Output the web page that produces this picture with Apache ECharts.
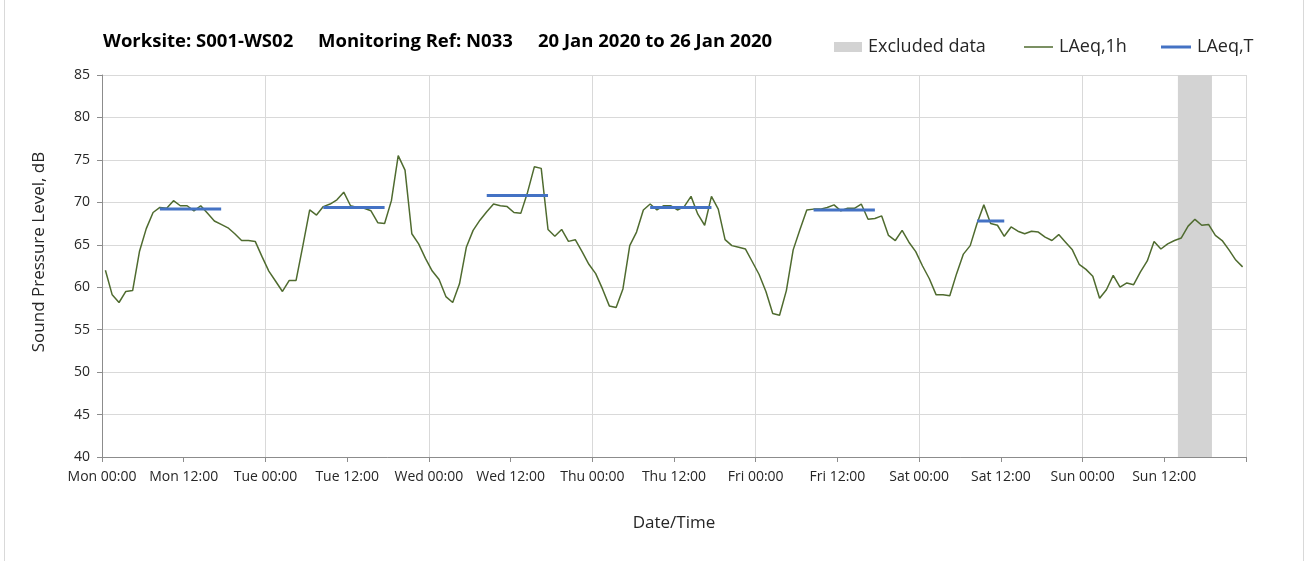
<!DOCTYPE html>
<html lang="en">
<head>
    <meta charset="UTF-8">
    <script src="https://cdn.jsdelivr.net/npm/echarts@6/dist/echarts.min.js"></script>
    <title>Noise monitoring</title>
    <style type="text/css">
    body {
        margin: 0;
        background: #fff;
    }
    .noise_chart {
        position: absolute;
        left: 0;
        top: 0;
        width: 1309px;
        height: 563px;
    }
    .frame {
        position: absolute;
        left: 4px;
        top: -2px;
        width: 1298px;
        height: 563px;
        border-left: 1px solid #d9d9d9;
        border-right: 1px solid #d9d9d9;
        pointer-events: none;
    }
    </style>
</head>
<body>
    <div class="frame"></div>
    <div id="noise_chart" class="noise_chart"></div>
<script type="text/javascript">
// hourly LAeq,1h, hour 0 = Mon 00:00
var laeq1h = [
    62.0, 59.1, 58.2, 59.5, 59.6, 64.2, 66.9, 68.8, 69.4, 69.3, 70.2, 69.6,
    69.6, 69.0, 69.6, 68.7, 67.8, 67.4, 67.0, 66.3, 65.5, 65.5, 65.4, 63.6,
    61.9, 60.7, 59.5, 60.8, 60.8, 64.9, 69.1, 68.5, 69.5, 69.8, 70.3, 71.2,
    69.6, 69.4, 69.3, 69.0, 67.6, 67.5, 70.2, 75.5, 73.8, 66.3, 65.1, 63.4,
    61.9, 60.9, 58.9, 58.2, 60.4, 64.7, 66.7, 67.9, 68.9, 69.8, 69.6, 69.5,
    68.8, 68.7, 71.2, 74.2, 74.0, 66.8, 66.0, 66.8, 65.4, 65.6, 64.2, 62.7,
    61.6, 59.8, 57.8, 57.6, 59.8, 64.9, 66.5, 69.1, 69.8, 69.1, 69.6, 69.6,
    69.1, 69.5, 70.7, 68.6, 67.3, 70.7, 69.2, 65.6, 64.9, 64.7, 64.5, 63.0,
    61.5, 59.5, 56.9, 56.7, 59.6, 64.4, 66.8, 69.1, 69.2, 69.2, 69.4, 69.7,
    69.0, 69.3, 69.3, 69.8, 68.0, 68.1, 68.4, 66.1, 65.5, 66.7, 65.3, 64.2,
    62.5, 61.0, 59.1, 59.1, 59.0, 61.6, 63.9, 64.9, 67.5, 69.7, 67.5, 67.3,
    66.0, 67.1, 66.6, 66.3, 66.6, 66.5, 65.9, 65.5, 66.2, 65.3, 64.4, 62.7,
    62.1, 61.3, 58.7, 59.7, 61.4, 60.0, 60.5, 60.3, 61.8, 63.1, 65.4, 64.5,
    65.1, 65.5, 65.8, 67.2, 68.0, 67.3, 67.4, 66.1, 65.5, 64.4, 63.2, 62.4
];
// LAeq,T periods (first and last hour) and level
var periodStart = [8, 32, 56, 80, 104, 128];
var periodEnd = [17, 41, 65, 89, 113, 132];
var periodLevel = [69.2, 69.4, 70.8, 69.4, 69.1, 67.8];
// excluded window in hours
var excludedFrom = 158;
var excludedTo = 163;
var dayNames = ['Mon', 'Tue', 'Wed', 'Thu', 'Fri', 'Sat', 'Sun'];

var fontName = 'Open Sans';
var green = '#4f6b2f';
var blue = '#4472c4';
var grey = '#d3d3d3';
var myChart = echarts.init(document.getElementById('noise_chart'));

var hourlyData = laeq1h.map(function (v, i) {
    return [i + 0.5, v];
});

var series = [
    {
        name: 'Excluded data',
        type: 'line',
        data: [],
        itemStyle: { color: grey },
        lineStyle: { color: grey },
        markArea: {
            silent: true,
            itemStyle: { color: grey },
            data: [[{ xAxis: excludedFrom }, { xAxis: excludedTo }]]
        },
        z: 1
    },
    {
        name: 'LAeq,1h',
        type: 'line',
        data: hourlyData,
        symbol: 'none',
        lineStyle: { color: green, width: 1.5 },
        itemStyle: { color: green },
        z: 3
    }
];
for (var k = 0; k < periodStart.length; k++) {
    series.push({
        name: 'LAeq,T',
        type: 'line',
        data: [[periodStart[k] + 0.5, periodLevel[k]], [periodEnd[k] + 0.5, periodLevel[k]]],
        symbol: 'none',
        lineStyle: { color: blue, width: 3, cap: 'butt' },
        itemStyle: { color: blue },
        z: 4
    });
}

var titleStyle = { fontFamily: fontName, fontWeight: 'bold', fontSize: 18.5, color: '#000' };
var legendText = { fontFamily: fontName, fontSize: 18, color: '#262626', padding: [0, 0, 0, 1] };

// one legend per item, so each icon can have its own size
function legendFor(name, left, w, h, color) {
    return {
        left: left,
        top: 38,
        padding: 0,
        icon: 'rect',
        itemWidth: w,
        itemHeight: h,
        textStyle: legendText,
        data: [{ name: name, itemStyle: { color: color } }]
    };
}

var option = {
    animation: false,
    title: [
        { text: 'Worksite: S001-WS02', left: 103, top: 32, padding: 0, textStyle: titleStyle },
        { text: 'Monitoring Ref: N033', left: 318, top: 32, padding: 0, textStyle: titleStyle },
        { text: '20 Jan 2020 to 26 Jan 2020', left: 538, top: 32, padding: 0, textStyle: titleStyle }
    ],
    legend: [
        legendFor('Excluded data', 834, 28, 10, grey),
        legendFor('LAeq,1h', 1024, 29, 1.5, green),
        legendFor('LAeq,T', 1161, 30, 3, blue)
    ],
    grid: {
        left: 102,
        right: 63,
        top: 75,
        bottom: 106
    },
    xAxis: {
        type: 'value',
        min: 0,
        max: 168,
        interval: 12,
        name: 'Date/Time',
        nameLocation: 'middle',
        nameGap: 58,
        nameTextStyle: { fontFamily: fontName, fontSize: 17, color: '#262626' },
        axisLine: { lineStyle: { color: '#8c8c8c', width: 1 } },
        axisTick: { show: true, length: 5, lineStyle: { color: '#8c8c8c' } },
        axisLabel: {
            fontFamily: fontName,
            fontSize: 14,
            color: '#262626',
            margin: 13,
            showMaxLabel: true,
            formatter: function (v) {
                if (v >= 168) return '';
                return dayNames[Math.floor(v / 24)] + (v % 24 === 0 ? ' 00:00' : ' 12:00');
            }
        },
        splitLine: {
            show: true,
            lineStyle: { color: ['#d9d9d9', 'rgba(0,0,0,0)'], width: 1 }
        }
    },
    yAxis: {
        type: 'value',
        min: 40,
        max: 85,
        interval: 5,
        name: 'Sound Pressure Level, dB',
        nameLocation: 'middle',
        nameGap: 54,
        nameTextStyle: { fontFamily: fontName, fontSize: 17, color: '#262626', padding: [0, 0, 0, 28] },
        axisLine: { show: true, lineStyle: { color: '#8c8c8c', width: 1 } },
        axisTick: { show: true, length: 5, lineStyle: { color: '#8c8c8c' } },
        axisLabel: { fontFamily: fontName, fontSize: 14, color: '#262626', margin: 12 },
        splitLine: { show: true, lineStyle: { color: '#d9d9d9', width: 1 } }
    },
    series: series
};
myChart.setOption(option);
</script>
</body>
</html>
